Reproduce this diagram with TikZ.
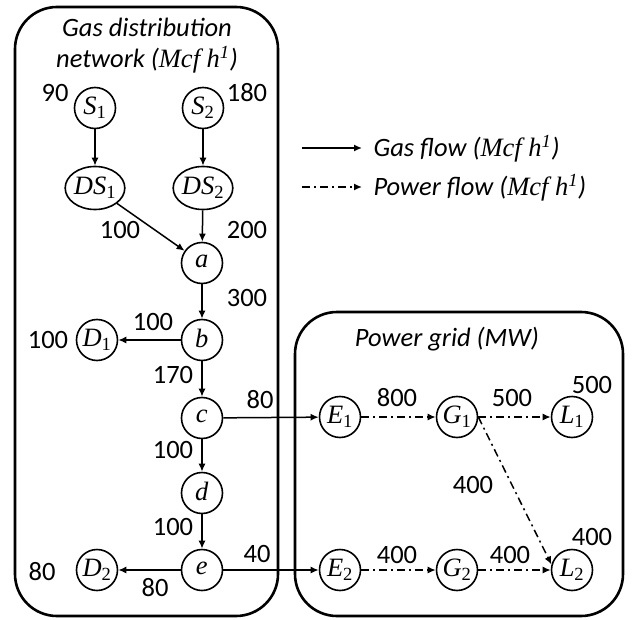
\documentclass[tikz,border=0pt]{standalone}
\usepackage{fontspec}
\setmainfont{Carlito}
\newfontfamily\mfont{Liberation Serif}
\newcommand\mv[2]{{\mfont\itshape #1}\textsubscript{\mfont #2}}
\newcommand\mcfh{{\mfont\itshape Mcf h}\textsuperscript{\mfont 1}}
\usetikzlibrary{arrows.meta,shapes.geometric}
\begin{document}
\begin{tikzpicture}[x=1pt,y=-1pt,
  every node/.style={font=\fontsize{26.5}{28}\selectfont},
  nd/.style={circle,draw,line width=1.6pt,minimum size=41pt,inner sep=0pt},
  ell/.style={ellipse,draw,line width=1.6pt,minimum width=56pt,minimum height=43pt,inner sep=0pt},
  gas/.style={line width=1.5pt,-{Latex[length=8pt,width=7pt]}},
  pow/.style={gas,dash pattern=on 8pt off 4pt on 2pt off 4pt},
  box/.style={draw,line width=2.6pt,rounded corners=42pt}
]
\useasboundingbox (0,0) rectangle (639,620);
% boxes
\draw[box] (15,7) rectangle (278,616);
\draw[box] (295,312) rectangle (623,616);
% titles
\node[align=center,inner sep=0pt,font=\fontsize{26.5}{31}\selectfont] (t1) at (147,46) {\itshape Gas distribution\\ \itshape network (\mcfh)};
\node (t3) at (447,339) {\itshape Power grid (MW)};
% gas nodes
\node[nd] (S1) at (95,108) {\mv{S}{1}};
\node[nd] (S2) at (203,108) {\mv{S}{2}};
\node[ell] (DS1) at (95,188) {\mv{DS}{1}};
\node[ell] (DS2) at (203,188) {\mv{DS}{2}};
\node[nd] (a) at (202,263) {\mv{a}{}};
\node[nd] (b) at (202,340) {\mv{b}{}};
\node[nd] (D1) at (97,340) {\mv{D}{1}};
\node[nd] (c) at (202,418) {\mv{c}{}};
\node[nd] (d) at (202,493) {\mv{d}{}};
\node[nd] (e) at (202,570) {\mv{e}{}};
\node[nd] (D2) at (97,570) {\mv{D}{2}};
% power nodes
\node[nd] (E1) at (340,417) {\mv{E}{1}};
\node[nd] (G1) at (457,417) {\mv{G}{1}};
\node[nd] (L1) at (572,417) {\mv{L}{1}};
\node[nd] (E2) at (340,570) {\mv{E}{2}};
\node[nd] (G2) at (457,570) {\mv{G}{2}};
\node[nd] (L2) at (572,570) {\mv{L}{2}};
% gas edges
\draw[gas] (S1) -- (DS1);
\draw[gas] (S2) -- (DS2);
\draw[gas] (DS1) -- (a);
\draw[gas] (DS2) -- (a);
\draw[gas] (a) -- (b);
\draw[gas] (b) -- (D1);
\draw[gas] (b) -- (c);
\draw[gas] (c) -- (d);
\draw[gas] (d) -- (e);
\draw[gas] (e) -- (D2);
\draw[gas] (c) -- (E1);
\draw[gas] (e) -- (E2);
% power edges
\draw[pow] (E1) -- (G1);
\draw[pow] (G1) -- (L1);
\draw[pow] (E2) -- (G2);
\draw[pow] (G2) -- (L2);
\draw[pow] (G1.east) -- (L2.165);
% value labels
\node (v1) at (55,93) {90};
\node (v2) at (247,93) {180};
\node (v3) at (120,230) {100};
\node (v4) at (247,230) {200};
\node (v5) at (247,298) {300};
\node (v6) at (153,322) {100};
\node (v7) at (48,340) {100};
\node (v8) at (173,375) {170};
\node (v9) at (260,400) {80};
\node (v10) at (173,450) {100};
\node (v11) at (173,527) {100};
\node (v12) at (257,554) {40};
\node (v13) at (42,572) {80};
\node (v14) at (155,588) {80};
\node (p1) at (397,398) {800};
\node (p2) at (512,398) {500};
\node (p3) at (592,385) {500};
\node (p4) at (473,485) {400};
\node (p5) at (397,555) {400};
\node (p6) at (510,555) {400};
\node (p7) at (592,537) {400};
% legend
\coordinate (g0) at (302,148);
\coordinate (g1) at (362,148);
\coordinate (q0) at (302,187);
\coordinate (q1) at (362,187);
\draw[gas] (g0) -- (g1);
\draw[pow] (q0) -- (q1);
\node[anchor=west] (lg) at (370,149) {\itshape Gas flow (\mcfh)};
\node[anchor=west] (lp) at (370,188) {\itshape Power flow (\mcfh)};
\end{tikzpicture}
\end{document}
